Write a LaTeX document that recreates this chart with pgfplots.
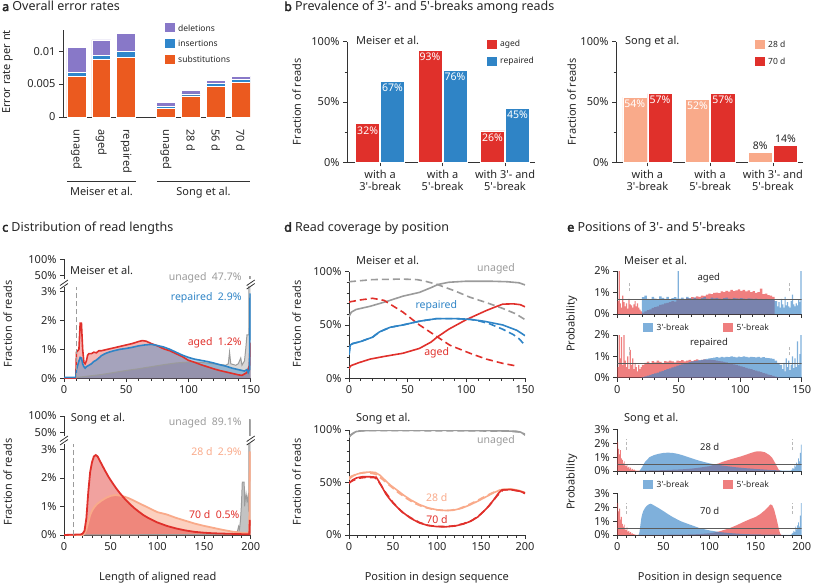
\documentclass[border=0pt]{standalone}
\usepackage{pgfplots}
\pgfplotsset{compat=1.18}
\usepackage{pgfplotstable}
\usepackage{fontspec}
\setmainfont{Noto Sans}[AutoFakeBold=3]
\newcommand{\fs}[1]{\fontsize{#1}{#1}\selectfont}
\newcommand{\q}{\textquotesingle}
\definecolor{axc}{HTML}{333333}
\definecolor{txc}{HTML}{262626}
\definecolor{cdel}{HTML}{8878C8}
\definecolor{cins}{HTML}{2F86CB}
\definecolor{csub}{HTML}{EB5A1F}
\definecolor{cred}{HTML}{E0302B}
\definecolor{cblue}{HTML}{2F84C6}
\definecolor{csal}{HTML}{F9AA8A}
\definecolor{cgrey}{HTML}{9B9B9B}
\definecolor{eblue}{HTML}{3B86C8}
\definecolor{ered}{HTML}{E63B3B}
\pgfplotsset{
  base/.style={
    scale only axis, anchor=south west,
    axis x line*=bottom, axis y line*=left,
    axis line style={draw=axc, line width=0.9pt},
    tick style={draw=axc, line width=0.7pt},
    tick align=outside, major tick length=4pt, minor tick length=2.5pt,
    tick label style={font=\fs{11}, text=txc},
    /pgf/number format/assume math mode=true,
  },
  pct/.style={yticklabel={\pgfmathprintnumber{\tick}\%}},
  efill/.style={const plot mark left, fill=#1, fill opacity=0.65, draw=none},
  sfill/.style={sharp plot, fill=#1, fill opacity=0.65, draw=none},
}
% panel c tables
\pgfplotstableread[row sep=\\]{x y\\0 0\\9.5 0\\10 0.03\\20 0.08\\30 0.13\\40 0.2\\50 0.27\\60 0.33\\70 0.4\\80 0.47\\90 0.53\\100 0.56\\110 0.55\\120 0.5\\125 0.48\\130 0.45\\132 0.5\\133 0.9\\134 0.5\\138 0.45\\140 0.5\\142 0.7\\143 0.45\\145 0.6\\146 1.0\\147 1.5\\148.5 1.5\\149 47.7\\150 47.7\\}\cGM
\pgfplotstableread[row sep=\\]{x y\\0 0\\9.5 0\\10 0.9\\11 0.95\\12 1.0\\13 1.9\\14 1.9\\15 1.0\\16 0.55\\17 0.5\\18 0.6\\19 0.8\\20 0.85\\22 0.85\\24 0.9\\26 0.88\\28 0.95\\30 0.95\\35 1.0\\40 1.05\\45 1.1\\50 1.15\\55 1.2\\60 1.27\\63 1.3\\66 1.28\\70 1.2\\75 1.12\\80 1.02\\85 0.95\\90 0.85\\95 0.75\\100 0.62\\105 0.55\\110 0.47\\115 0.4\\120 0.33\\125 0.27\\130 0.22\\135 0.17\\140 0.12\\143 0.1\\145 0.15\\147 0.2\\149 0.45\\149.5 1.2\\150 1.2\\}\cRM
\pgfplotstableread[row sep=\\]{x y\\0 0.03\\9.5 0.03\\10 0.3\\11 0.45\\12 0.6\\13 0.72\\14 0.7\\15 0.5\\16 0.4\\17 0.35\\18 0.4\\20 0.45\\22 0.5\\24 0.58\\26 0.63\\28 0.7\\30 0.78\\33 0.85\\36 0.9\\40 0.95\\45 1.0\\50 1.03\\55 1.07\\60 1.12\\65 1.15\\70 1.17\\73 1.15\\76 1.12\\80 1.08\\85 1.0\\90 0.9\\95 0.8\\100 0.72\\105 0.66\\110 0.62\\115 0.58\\120 0.53\\125 0.47\\130 0.42\\135 0.35\\140 0.3\\145 0.25\\147 0.3\\148 0.2\\149 0.3\\149.5 2.9\\150 2.9\\}\cBM
\pgfplotstableread[row sep=\\]{x y\\0 0\\180 0.02\\184 0.05\\186 0.15\\187 0.3\\188 0.2\\189 0.5\\190 1.0\\191 1.85\\193 1.85\\193.5 1.0\\194 1.2\\195 1.45\\196 1.2\\197 1.35\\198 0.8\\198.5 89.1\\200 89.1\\}\cGS
\pgfplotstableread[row sep=\\]{x y\\0 0\\20 0\\22 0.05\\24 0.2\\26 0.45\\28 0.7\\30 0.85\\33 1.0\\36 1.1\\40 1.2\\45 1.3\\50 1.37\\55 1.4\\60 1.38\\65 1.34\\70 1.28\\75 1.2\\80 1.12\\85 1.04\\90 0.96\\95 0.88\\100 0.8\\110 0.72\\120 0.6\\130 0.5\\140 0.4\\150 0.32\\160 0.25\\170 0.18\\180 0.12\\190 0.08\\198.5 0.06\\199 2.9\\200 2.9\\}\cSS
\pgfplotstableread[row sep=\\]{x y\\0 0\\18 0.02\\20 0.05\\22 0.15\\24 0.6\\26 1.5\\28 2.2\\30 2.55\\32 2.75\\34 2.8\\36 2.75\\38 2.62\\40 2.5\\44 2.25\\48 2.02\\52 1.82\\56 1.63\\60 1.46\\65 1.27\\70 1.1\\75 0.95\\80 0.82\\85 0.7\\90 0.6\\100 0.44\\110 0.32\\120 0.23\\130 0.16\\140 0.11\\150 0.08\\160 0.06\\170 0.05\\180 0.04\\190 0.03\\198.5 0.03\\199 0.5\\200 0.5\\}\cRS
\begin{document}
\begin{tikzpicture}
\useasboundingbox (0pt,0pt) rectangle (813pt,-586pt);
\tikzset{lab/.style={inner sep=0pt, text=txc}}
% titles
\node[lab, anchor=base west, font=\fs{12.5}] at (2pt,-11pt) {\textbf{a} Overall error rates};
\node[lab, anchor=base west, font=\fs{12.5}] at (284pt,-11pt) {\textbf{b} Prevalence of 3\q- and 5\q-breaks among reads};
\node[lab, anchor=base west, font=\fs{12.5}] at (2pt,-231.7pt) {\textbf{c} Distribution of read lengths};
\node[lab, anchor=base west, font=\fs{12.5}] at (284pt,-231.7pt) {\textbf{d} Read coverage by position};
\node[lab, anchor=base west, font=\fs{12.5}] at (567pt,-231.7pt) {\textbf{e} Positions of 3\q- and 5\q-breaks};

% ================= panel a
\begin{axis}[base, at={(63pt,-117pt)}, width=187pt, height=87pt,
  xmin=-0.54, xmax=6.98, ymin=0, ymax=0.0132,
  ybar stacked, bar width=0.76, scaled y ticks=false,
  ytick={0,0.005,0.01}, yticklabels={0,0.005,0.01},
  xtick={0,1,2,3.6,4.6,5.6,6.6},
  xticklabels={unaged,aged,repaired,unaged,28 d,56 d,70 d},
  xtick style={draw=none},
  xticklabel style={yshift=-5pt, rotate=-90, anchor=west},
]
\addplot[fill=csub, draw=white, line width=0.6pt] coordinates {(0,0.0061)(1,0.0087)(2,0.0090)(3.6,0.0013)(4.6,0.0032)(5.6,0.0046)(6.6,0.0052)};
\addplot[fill=cins, draw=white, line width=0.6pt] coordinates {(0,0.0007)(1,0.0006)(2,0.0010)(3.6,0.0003)(4.6,0.0003)(5.6,0.0005)(6.6,0.0005)};
\addplot[fill=cdel, draw=white, line width=0.6pt] coordinates {(0,0.0037)(1,0.0024)(2,0.0027)(3.6,0.0006)(4.6,0.00056)(5.6,0.0004)(6.6,0.0005)};
\end{axis}
\node[lab, rotate=90, font=\fs{11}] at (7.5pt,-72pt) {Error rate per nt};
\fill[cdel] (165pt,-23.5pt) rectangle (175pt,-32.5pt);
\fill[cins] (165pt,-39pt) rectangle (175pt,-48pt);
\fill[csub] (165pt,-55pt) rectangle (175pt,-64pt);
\node[lab, anchor=west, font=\fs{8.5}] at (178pt,-28pt) {deletions};
\node[lab, anchor=west, font=\fs{8.5}] at (178pt,-43.5pt) {insertions};
\node[lab, anchor=west, font=\fs{8.5}] at (178pt,-59.5pt) {substitutions};
\draw[axc, line width=0.8pt] (67pt,-181pt) -- (136pt,-181pt);
\draw[axc, line width=0.8pt] (157pt,-181pt) -- (250pt,-181pt);
\node[lab, anchor=base, font=\fs{11}] at (101.5pt,-195.5pt) {Meiser et al.};
\node[lab, anchor=base, font=\fs{11}] at (203.5pt,-195.5pt) {Song et al.};

% ================= panel b (Meiser)
\begin{axis}[base, pct, at={(347pt,-162.3pt)}, width=188pt, height=120.6pt,
  xmin=-0.53, xmax=2.48, ymin=0, ymax=100, ybar, bar width=0.385,
  ytick={0,50,100}, minor ytick={25,75},
  xtick={0,1,2}, xticklabels={{with a\\3\q-break},{with a\\5\q-break},{with 3\q- and\\5\q-break}},
  xticklabel style={align=center, font=\fontsize{11}{12.5}\selectfont},
]
\addplot[fill=cred, draw=white, line width=0.5pt, bar shift=-0.2,
  nodes near coords={\pgfmathprintnumber{\pgfplotspointmeta}\%},
  nodes near coords style={anchor=north, text=white, font=\fs{10.5}, inner sep=2.5pt}]
  coordinates {(0,32)(1,93)(2,26)};
\addplot[fill=cblue, draw=white, line width=0.5pt, bar shift=0.2,
  nodes near coords={\pgfmathprintnumber{\pgfplotspointmeta}\%},
  nodes near coords style={anchor=north, text=white, font=\fs{10.5}, inner sep=2.5pt}]
  coordinates {(0,67)(1,76)(2,45)};
\end{axis}
\node[lab, rotate=90, font=\fs{11}] at (296.7pt,-101.7pt) {Fraction of reads};
\node[lab, anchor=base west, font=\fs{11}] at (356pt,-45pt) {Meiser et al.};
\fill[cred] (487pt,-40pt) rectangle (497pt,-49pt);
\fill[cblue] (487pt,-56.7pt) rectangle (497pt,-65.7pt);
\node[lab, anchor=west, font=\fs{8.5}] at (500pt,-44.5pt) {aged};
\node[lab, anchor=west, font=\fs{8.5}] at (500pt,-61.2pt) {repaired};

% ================= panel b (Song)
\begin{axis}[base, pct, at={(616pt,-162.3pt)}, width=187pt, height=120.6pt,
  xmin=-0.5, xmax=2.48, ymin=0, ymax=100, ybar, bar width=0.385,
  ytick={0,50,100}, minor ytick={25,75},
  xtick={0,1,2}, xticklabels={{with a\\3\q-break},{with a\\5\q-break},{with 3\q- and\\5\q-break}},
  xticklabel style={align=center, font=\fontsize{11}{12.5}\selectfont},
]
\addplot[fill=csal, draw=white, line width=0.5pt, bar shift=-0.2,
  nodes near coords={\pgfmathprintnumber{\pgfplotspointmeta}\%},
  nodes near coords style={anchor=north, text=white, font=\fs{10.5}, inner sep=2.5pt}]
  coordinates {(0,54)(1,52)};
\addplot[fill=csal, draw=white, line width=0.5pt, bar shift=-0.2,
  nodes near coords={\pgfmathprintnumber{\pgfplotspointmeta}\%},
  nodes near coords style={anchor=south, text=txc, font=\fs{10.5}, inner sep=2.5pt}]
  coordinates {(2,8)};
\addplot[fill=cred, draw=white, line width=0.5pt, bar shift=0.2,
  nodes near coords={\pgfmathprintnumber{\pgfplotspointmeta}\%},
  nodes near coords style={anchor=north, text=white, font=\fs{10.5}, inner sep=2.5pt}]
  coordinates {(0,57)(1,57)};
\addplot[fill=cred, draw=white, line width=0.5pt, bar shift=0.2,
  nodes near coords={\pgfmathprintnumber{\pgfplotspointmeta}\%},
  nodes near coords style={anchor=south, text=txc, font=\fs{10.5}, inner sep=2.5pt}]
  coordinates {(2,14)};
\end{axis}
\node[lab, rotate=90, font=\fs{11}] at (571.7pt,-101.7pt) {Fraction of reads};
\node[lab, anchor=base west, font=\fs{11}] at (625pt,-45pt) {Song et al.};
\fill[csal] (755pt,-40pt) rectangle (765pt,-49pt);
\fill[cred] (755pt,-56.7pt) rectangle (765pt,-65.7pt);
\node[lab, anchor=west, font=\fs{8.5}] at (768pt,-44.5pt) {28 d};
\node[lab, anchor=west, font=\fs{8.5}] at (768pt,-61.2pt) {70 d};

% ================= panel c (Meiser)
\begin{axis}[base, pct, at={(64pt,-378.3pt)}, width=186.7pt, height=91.35pt,
  xmin=0, xmax=150, ymin=0, ymax=3.15,
  ytick={0,1,2,3}, xtick={0,50,100,150}, minor xtick={10,20,...,140},
]
\addplot[fill=cgrey, fill opacity=0.4, draw=none] table {\cGM} \closedcycle;
\addplot[fill=cred, fill opacity=0.35, draw=none] table {\cRM} \closedcycle;
\addplot[fill=cblue, fill opacity=0.4, draw=none] table {\cBM} \closedcycle;
\addplot[cgrey, line width=1pt] table {\cGM};
\addplot[cred, line width=1.6pt] table {\cRM};
\addplot[cblue, line width=1.6pt] table {\cBM};
\addplot[cgrey, line width=0.8pt, dash pattern=on 5pt off 3pt] coordinates {(10,0)(10,3.15)};
\end{axis}
\begin{axis}[base, pct, at={(64pt,-279pt)}, width=186.7pt, height=19.7pt,
  xmin=0, xmax=150, ymin=40, ymax=100, axis x line=none,
  ytick={50,100}, xtick=\empty,
]
\addplot[fill=cgrey, draw=cgrey, line width=0.5pt] coordinates {(148.6,40)(148.6,47.7)(150,47.7)(150,40)};
\end{axis}
\draw[axc, line width=0.8pt] (60pt,-285.5pt)--(68pt,-280pt) (60pt,-289pt)--(68pt,-283.5pt);
\draw[axc, line width=0.8pt] (246.7pt,-285.5pt)--(254.7pt,-280pt) (246.7pt,-289pt)--(254.7pt,-283.5pt);
\node[lab, rotate=90, font=\fs{11}] at (7.7pt,-324pt) {Fraction of reads};
\node[lab, anchor=base west, font=\fs{11}] at (70pt,-274.5pt) {Meiser et al.};
\node[lab, anchor=base east, font=\fs{10.5}, text=cgrey] at (241.7pt,-280.5pt) {unaged\ \ 47.7\%};
\node[lab, anchor=base east, font=\fs{10.5}, text=cblue] at (241.7pt,-300.5pt) {repaired\ \ 2.9\%};
\node[lab, anchor=base east, font=\fs{10.5}, text=cred] at (241.7pt,-345.5pt) {aged\ \ 1.2\%};

% ================= panel c (Song)
\begin{axis}[base, pct, at={(64pt,-535pt)}, width=186.7pt, height=91.4pt,
  xmin=0, xmax=200, ymin=0, ymax=3.2,
  ytick={0,1,2,3}, xtick={0,50,100,150,200}, minor xtick={10,20,...,190},
]
\addplot[fill=cgrey, fill opacity=0.6, draw=none] table {\cGS} \closedcycle;
\addplot[fill=csal, fill opacity=0.55, draw=none] table {\cSS} \closedcycle;
\addplot[fill=cred, fill opacity=0.45, draw=none] table {\cRS} \closedcycle;
\addplot[cgrey, line width=1pt] table {\cGS};
\addplot[csal, line width=1.8pt] table {\cSS};
\addplot[cred, line width=1.8pt] table {\cRS};
\addplot[cgrey, line width=0.8pt, dash pattern=on 5pt off 3pt] coordinates {(10,0)(10,3.2)};
\end{axis}
\begin{axis}[base, pct, at={(64pt,-436pt)}, width=186.7pt, height=20pt,
  xmin=0, xmax=200, ymin=40, ymax=100, axis x line=none,
  ytick={50,100}, xtick=\empty,
]
\addplot[fill=cgrey, draw=cgrey, line width=0.5pt] coordinates {(198.5,40)(198.5,89.1)(200,89.1)(200,40)};
\end{axis}
\draw[axc, line width=0.8pt] (60pt,-441.5pt)--(68pt,-436pt) (60pt,-445pt)--(68pt,-439.5pt);
\draw[axc, line width=0.8pt] (246.7pt,-441.5pt)--(254.7pt,-436pt) (246.7pt,-445pt)--(254.7pt,-439.5pt);
\node[lab, rotate=90, font=\fs{11}] at (7.7pt,-482pt) {Fraction of reads};
\node[lab, anchor=base west, font=\fs{11}] at (70.7pt,-421.5pt) {Song et al.};
\node[lab, anchor=base east, font=\fs{10.5}, text=cgrey] at (241.7pt,-425pt) {unaged\ \ 89.1\%};
\node[lab, anchor=base east, font=\fs{10.5}, text=csal] at (241.7pt,-455.5pt) {28 d\ \ 2.9\%};
\node[lab, anchor=base east, font=\fs{10.5}, text=cred] at (239.5pt,-518.5pt) {70 d\ \ 0.5\%};
\node[lab, anchor=base, font=\fs{11}] at (157.7pt,-580.5pt) {Length of aligned read};

% ================= panel d (Meiser)
\begin{axis}[base, pct, at={(349pt,-378.3pt)}, width=176pt, height=106.7pt,
  xmin=0, xmax=150, ymin=0, ymax=100,
  ytick={0,50,100}, minor ytick={10,20,30,40,60,70,80,90},
  xtick={0,50,100,150}, minor xtick={10,20,...,140},
]
\addplot[cgrey, line width=1.6pt, dash pattern=on 7pt off 4pt] coordinates {(0,90.5)(20,92.5)(45,93)(58,92.5)(65,91)(75,88)(90,82)(103,76)(117,71)(131,65.5)(142,60.5)(150,55)};
\addplot[cgrey, line width=1.6pt] coordinates {(0,58)(2,62)(6,64.5)(18,67.5)(32,72)(46,77)(60,80.5)(70,85)(76,88)(85,90)(100,91)(120,91)(135,90.5)(145,89.5)(150,87.5)};
\addplot[cred, line width=1.6pt, dash pattern=on 7pt off 4pt] coordinates {(0,71.5)(10,73.5)(20,75)(30,73)(38,67.5)(46,62)(60,50)(75,39)(86,31)(103,23.5)(117,18)(131,14)(143,11.5)};
\addplot[cblue, line width=1.6pt, dash pattern=on 7pt off 4pt] coordinates {(0,22)(1,31)(3,32.5)(10,34.5)(20,38.5)(26,43.5)(35,47.8)(46,50)(60,53.5)(75,56)(90,56)(103,55.3)(110,54)(120,51)(131,46)(140,41)(145,37)(150,31)};
\addplot[cred, line width=1.6pt] coordinates {(0,9)(1,11)(2,12)(8,14.5)(18,18)(30,20.5)(46,23.5)(60,28)(70,34)(75,38.5)(85,46)(100,55)(110,60)(117,63.5)(125,67)(131,69.5)(140,69.8)(146,69)(150,67)};
\addplot[cblue, line width=1.6pt] coordinates {(0,22)(1,31)(3,32.5)(10,34.5)(20,38.5)(26,43.5)(35,47.8)(46,50)(60,53.5)(75,56)(90,56)(103,55.3)(115,53.5)(131,50)(143,45)(150,40)};
\end{axis}
\node[lab, rotate=90, font=\fs{11}] at (296.7pt,-324pt) {Fraction of reads};
\node[lab, anchor=base west, font=\fs{11}] at (356pt,-264.5pt) {Meiser et al.};
\node[lab, anchor=base, font=\fs{10.5}, text=cgrey] at (496pt,-271.5pt) {unaged};
\node[lab, anchor=base, font=\fs{10.5}, text=cblue] at (436.3pt,-308.5pt) {repaired};
\node[lab, anchor=base, font=\fs{10.5}, text=cred] at (436.7pt,-355pt) {aged};

% ================= panel d (Song)
\begin{axis}[base, pct, at={(349pt,-535pt)}, width=176pt, height=105pt,
  xmin=0, xmax=200, ymin=0, ymax=100,
  ytick={0,50,100}, minor ytick={10,20,30,40,60,70,80,90},
  xtick={0,50,100,150,200}, minor xtick={10,20,...,190},
]
\addplot[cgrey, line width=1.6pt, dash pattern=on 7pt off 4pt] coordinates {(0,94)(3,96)(8,98.8)(20,99.5)(100,99.3)(180,99)(195,98)(200,96)};
\addplot[cgrey, line width=1.6pt] coordinates {(0,93)(2,95)(5,97)(8,98.5)(15,99.3)(30,99.8)(100,99.8)(170,99.3)(190,98.8)(195,98)(198,96.5)(200,95)};
\addplot[csal, line width=1.6pt, dash pattern=on 7pt off 4pt] coordinates {(0,55)(10,58.5)(20,59.5)(30,58)(38,53)(45,48)(55,41)(65,35)(75,30)(85,26.5)(95,24.5)(105,23.5)(115,23.5)(125,25)(135,28.5)(145,32.5)(155,37)(165,41)(175,43.5)(185,43.5)(195,41.5)(200,40)};
\addplot[csal, line width=1.6pt] coordinates {(0,53)(4,56)(9,58)(16,59.5)(24,60)(30,59.5)(35,57)(40,53)(47,47.5)(55,42.5)(62,38)(70,33.5)(80,29)(90,25.8)(100,24)(110,23.3)(118,23.5)(128,25.5)(137,28.5)(147,32.5)(156,36.5)(165,40.5)(172,43)(183,44)(193,42.5)(200,40.5)};
\addplot[cred, line width=1.6pt, dash pattern=on 7pt off 4pt] coordinates {(0,50)(10,54)(20,55)(30,54.5)(36,48)(42,40)(50,31)(60,22)(70,16.5)(80,12)(90,9.2)(100,8.2)(110,8)(120,8.8)(130,10.8)(140,14)(150,20)(160,28.5)(168,37)(175,43)(185,43)(195,41.5)(200,39.5)};
\addplot[cred, line width=1.6pt] coordinates {(0,49)(4,52.5)(9,54.5)(15,55.5)(24,55.5)(31,55)(34,51)(38,45)(42,39)(46,34.5)(50,30.5)(56,25.5)(62,21)(70,16)(80,11.5)(90,9)(100,8)(110,7.8)(120,8.5)(130,10.5)(138,13)(146,17)(156,25)(164,33)(170,40)(174,43)(183,43.3)(193,42)(200,40)};
\end{axis}
\node[lab, rotate=90, font=\fs{11}] at (296.7pt,-481.7pt) {Fraction of reads};
\node[lab, anchor=base west, font=\fs{11}] at (356pt,-421.5pt) {Song et al.};
\node[lab, anchor=base, font=\fs{10.5}, text=cgrey] at (496pt,-443pt) {unaged};
\node[lab, anchor=base, font=\fs{10.5}, text=csal] at (436.7pt,-501pt) {28 d};
\node[lab, anchor=base, font=\fs{10.5}, text=cred] at (437pt,-523pt) {70 d};
\node[lab, anchor=base, font=\fs{11}] at (436.8pt,-580.5pt) {Position in design sequence};

% ================= panel e (Meiser aged)
\begin{axis}[base, pct, at={(617.3pt,-314pt)}, width=184.4pt, height=43pt,
  xmin=0, xmax=150, ymin=0, ymax=2, ytick={0,1,2},
  xtick={0,50,100,150}, minor xtick={10,20,...,140}, xticklabels={,,,,},
]
\addplot[efill=ered] coordinates {(0,0.6)(1,2.0)(2,0.5)(3,0.3)(4,0.85)(5,0.55)(6,0.35)(7,0.5)(8,0.25)(9,0.7)(10,0.45)(11,0.4)(12,0.3)(13,0.45)(14,0.6)(15,0.35)(16,0.5)(17,0.3)(18,0.2)(19,0.12)(20,0.06)(22,0.12)(24,0.18)(26,0.22)(28,0.28)(30,0.32)(32,0.36)(34,0.42)(36,0.45)(38,0.5)(40,0.52)(42,0.55)(44,0.6)(46,0.58)(48,0.64)(50,0.66)(52,0.7)(54,0.68)(56,0.74)(58,0.72)(60,0.78)(62,0.76)(64,0.82)(66,0.8)(68,0.86)(70,0.84)(72,0.9)(74,0.95)(76,0.92)(78,0.98)(80,1.0)(82,0.97)(84,1.05)(86,1.02)(88,1.08)(90,1.04)(92,1.12)(94,1.06)(96,1.1)(98,1.15)(100,1.08)(102,1.12)(104,1.05)(106,1.1)(108,1.02)(110,1.06)(112,0.98)(114,1.02)(116,1.18)(118,0.92)(120,0.95)(122,0.88)(124,0.85)(126,0.8)(128,0)(150,0)} \closedcycle;
\addplot[efill=eblue] coordinates {(0,0)(20,0.78)(22,0.85)(24,0.7)(26,0.65)(28,0.8)(30,0.72)(32,0.68)(34,0.82)(36,0.75)(38,0.7)(40,0.8)(42,0.66)(44,0.74)(46,0.78)(48,0.72)(49,2.0)(50,0.72)(52,0.76)(54,0.7)(56,0.8)(58,0.74)(60,0.7)(62,0.76)(64,0.72)(66,0.68)(68,0.74)(70,0.78)(72,0.72)(74,0.7)(76,0.76)(78,0.73)(80,0.75)(82,0.72)(84,0.7)(86,0.74)(88,0.76)(90,0.72)(92,0.7)(94,0.75)(96,0.73)(98,0.71)(100,0.74)(102,0.72)(104,0.7)(106,0.73)(108,0.71)(110,0.7)(112,0.72)(114,0.69)(116,0.7)(118,0.68)(120,0.7)(122,0.66)(124,0.68)(126,0.64)(128,0.6)(130,0.35)(131,0.55)(132,0.3)(133,0.7)(134,0.45)(135,0.3)(136,0.8)(137,0.4)(138,0.55)(139,0.35)(140,0.3)(141,0.6)(142,0.9)(143,0.45)(144,0.35)(145,0.5)(146,0.4)(147,0.65)(148,0.55)(149,2.0)(150,2.0)} \closedcycle;
\addplot[axc!80, line width=0.6pt] coordinates {(0,0.667)(150,0.667)};
\addplot[cgrey!70, line width=0.8pt, dash pattern=on 3pt off 2pt] coordinates {(10,1.05)(10,1.5)};
\addplot[cgrey!70, line width=0.8pt, dash pattern=on 3pt off 2pt] coordinates {(140,1.05)(140,1.5)};
\end{axis}
% panel e (Meiser repaired)
\begin{axis}[base, pct, at={(617.3pt,-377.7pt)}, width=184.4pt, height=42.7pt,
  xmin=0, xmax=150, ymin=0, ymax=2, ytick={0,1,2},
  xtick={0,50,100,150}, minor xtick={10,20,...,140},
]
\addplot[efill=ered] coordinates {(0,0.5)(1,2.0)(2,0.9)(3,1.9)(4,0.6)(5,2.0)(6,0.8)(7,0.5)(8,1.0)(9,0.4)(10,1.3)(11,0.6)(12,0.9)(13,0.4)(14,0.7)(15,0.5)(16,0.3)(17,0.6)(18,0.4)(19,0.5)(20,0.6)(22,0.7)(24,0.75)(26,0.68)(28,0.78)(30,0.72)(32,0.8)(34,0.74)(36,0.7)(38,0.78)(40,0.75)(42,0.8)(44,0.76)(46,0.72)(48,0.8)(50,0.78)(52,0.82)(54,0.76)(56,0.8)(58,0.84)(60,0.78)(62,0.82)(64,0.86)(66,0.8)(68,0.84)(70,0.86)(72,0.82)(74,0.85)(76,0.84)(78,0.82)(80,0.8)(82,0.78)(84,0.76)(86,0.74)(88,0.72)(90,0.68)(92,0.65)(94,0.62)(96,0.6)(98,0.56)(100,0.53)(102,0.5)(104,0.46)(106,0.43)(108,0.4)(110,0.36)(112,0.33)(114,0.3)(116,0.26)(118,0.22)(120,0.19)(122,0.15)(124,0.12)(126,0.08)(128,0.05)(130,0.02)(132,0)(150,0)} \closedcycle;
\addplot[efill=eblue] coordinates {(0,0)(20,0.03)(22,0.06)(24,0.1)(26,0.13)(28,0.17)(30,0.2)(32,0.24)(34,0.28)(36,0.32)(38,0.36)(40,0.4)(42,0.44)(44,0.48)(46,0.52)(48,0.56)(50,0.6)(52,0.63)(54,0.66)(56,0.7)(58,0.73)(60,0.76)(62,0.78)(64,0.8)(66,0.82)(68,0.84)(70,0.86)(72,0.88)(74,0.9)(76,0.92)(78,0.94)(80,0.96)(82,0.94)(84,0.97)(86,0.95)(88,0.98)(90,0.96)(92,1.0)(94,0.97)(96,0.95)(98,0.99)(100,0.96)(102,1.0)(104,0.97)(106,0.95)(108,0.98)(110,0.96)(112,0.95)(114,0.97)(116,0.94)(118,0.96)(120,0.93)(122,0.92)(124,0.9)(126,0.88)(128,0.8)(130,0.7)(132,0.6)(134,0.4)(135,0.7)(136,0.3)(137,0.9)(138,0.5)(139,0.8)(140,0.35)(141,0.6)(142,1.0)(143,0.45)(144,0.9)(145,0.5)(146,1.7)(147,0.6)(148,1.1)(149,2.0)(150,2.0)} \closedcycle;
\addplot[axc!80, line width=0.6pt] coordinates {(0,0.667)(150,0.667)};
\addplot[cgrey!70, line width=0.8pt, dash pattern=on 3pt off 2pt] coordinates {(10,1.05)(10,1.5)};
\addplot[cgrey!70, line width=0.8pt, dash pattern=on 3pt off 2pt] coordinates {(140,1.05)(140,1.5)};
\end{axis}
\node[lab, rotate=90, font=\fs{11}] at (571.7pt,-324pt) {Probability};
\node[lab, anchor=base west, font=\fs{11}] at (624pt,-264.5pt) {Meiser et al.};
\node[lab, anchor=base, font=\fs{9.5}] at (708.8pt,-280.8pt) {aged};
\node[lab, anchor=base, font=\fs{9.5}] at (709pt,-345pt) {repaired};
\fill[eblue, opacity=0.65] (643.3pt,-322.7pt) rectangle (653.3pt,-331.7pt);
\fill[ered, opacity=0.65] (723.3pt,-322.7pt) rectangle (733.3pt,-331.7pt);
\node[lab, anchor=west, font=\fs{8.5}] at (656.5pt,-327.2pt) {3\q-break};
\node[lab, anchor=west, font=\fs{8.5}] at (736.5pt,-327.2pt) {5\q-break};

% panel e (Song 28 d)
\begin{axis}[base, pct, at={(617.3pt,-471pt)}, width=184.4pt, height=41.7pt,
  xmin=0, xmax=200, ymin=0, ymax=3, ytick={0,1,2,3},
  xtick={0,50,100,150,200}, minor xtick={10,20,...,190}, xticklabels={,,,,,},
]
\addplot[efill=ered] coordinates {(0,2.1)(1,1.6)(2,1.2)(3,1.5)(4,0.9)(5,0.8)(6,0.55)(7,0.7)(8,0.4)(9,0.35)(10,0.45)(11,0.25)(12,0.3)(13,0.15)(14,0.25)(15,0.1)(16,0.15)(17,0.08)(18,0.1)(19,0.05)(20,0.02)} \closedcycle;
\addplot[sfill=ered] coordinates {(20,0.02)(30,0.03)(50,0.06)(70,0.12)(80,0.17)(90,0.25)(100,0.35)(110,0.55)(115,0.68)(120,0.78)(125,0.88)(133,1.03)(140,1.18)(145,1.3)(150,1.4)(155,1.42)(160,1.35)(165,1.15)(168,0.95)(171,0.6)(173,0.35)(175,0.1)(177,0)} \closedcycle;
\addplot[sfill=eblue] coordinates {(24,0)(25,0.1)(27,0.3)(30,0.65)(35,1.0)(40,1.15)(45,1.24)(50,1.3)(55,1.32)(60,1.3)(65,1.24)(70,1.15)(75,1.04)(80,0.93)(85,0.82)(90,0.72)(100,0.55)(110,0.43)(120,0.34)(130,0.26)(140,0.2)(150,0.15)(160,0.1)(170,0.06)(180,0.03)(188,0.02)} \closedcycle;
\addplot[efill=eblue] coordinates {(188,0.05)(189,0.1)(190,0.2)(191,0.15)(192,0.4)(193,0.3)(194,0.6)(195,0.5)(196,0.9)(197,0.7)(198,1.3)(199,1.9)(200,1.9)} \closedcycle;
\addplot[axc!80, line width=0.6pt] coordinates {(0,0.5)(200,0.5)};
\addplot[cgrey!70, line width=0.8pt, dash pattern=on 3pt off 2pt] coordinates {(10,1.5)(10,2.3)};
\addplot[cgrey!70, line width=0.8pt, dash pattern=on 3pt off 2pt] coordinates {(190,1.5)(190,2.3)};
\end{axis}
% panel e (Song 70 d)
\begin{axis}[base, pct, at={(617.3pt,-535pt)}, width=184.4pt, height=41.7pt,
  xmin=0, xmax=200, ymin=0, ymax=3, ytick={0,1,2,3},
  xtick={0,50,100,150,200}, minor xtick={10,20,...,190},
]
\addplot[efill=ered] coordinates {(0,2.3)(1,1.7)(2,1.9)(3,1.1)(4,1.3)(5,0.8)(6,0.6)(7,0.75)(8,0.4)(9,0.35)(10,0.55)(11,0.25)(12,0.3)(13,0.15)(14,0.2)(15,0.1)(16,0.12)(17,0.06)(18,0.05)(19,0.03)(20,0.01)} \closedcycle;
\addplot[sfill=ered] coordinates {(20,0.01)(60,0.02)(80,0.04)(90,0.07)(100,0.12)(110,0.25)(115,0.35)(120,0.45)(125,0.58)(130,0.72)(135,0.88)(140,1.03)(145,1.17)(150,1.3)(155,1.5)(160,1.78)(164,2.05)(166,2.2)(168,2.15)(170,1.85)(172,1.35)(173,1.08)(175,0.5)(176.5,0.12)(178,0)} \closedcycle;
\addplot[sfill=eblue] coordinates {(23,0)(24,0.2)(25,0.7)(26,1.2)(27,1.5)(28,1.7)(30,1.95)(32,2.1)(34,2.2)(36,2.25)(38,2.2)(40,2.12)(45,1.93)(50,1.72)(55,1.5)(60,1.3)(65,1.12)(70,0.96)(75,0.84)(80,0.72)(85,0.6)(90,0.48)(100,0.33)(110,0.22)(120,0.15)(130,0.1)(140,0.06)(160,0.03)(188,0.01)} \closedcycle;
\addplot[efill=eblue] coordinates {(188,0.03)(189,0.1)(190,0.15)(191,0.3)(192,0.2)(193,0.6)(194,0.4)(195,0.7)(196,0.9)(197,0.6)(198,1.4)(199,2.3)(200,2.3)} \closedcycle;
\addplot[axc!80, line width=0.6pt] coordinates {(0,0.5)(200,0.5)};
\addplot[cgrey!70, line width=0.8pt, dash pattern=on 3pt off 2pt] coordinates {(10,1.5)(10,2.3)};
\addplot[cgrey!70, line width=0.8pt, dash pattern=on 3pt off 2pt] coordinates {(190,1.5)(190,2.3)};
\end{axis}
\node[lab, rotate=90, font=\fs{11}] at (571.7pt,-482pt) {Probability};
\node[lab, anchor=base west, font=\fs{11}] at (624pt,-421.5pt) {Song et al.};
\node[lab, anchor=base, font=\fs{9.5}] at (709.7pt,-450pt) {28 d};
\node[lab, anchor=base, font=\fs{9.5}] at (709.7pt,-514pt) {70 d};
\fill[eblue, opacity=0.65] (643.3pt,-480pt) rectangle (653.3pt,-489pt);
\fill[ered, opacity=0.65] (723.3pt,-480pt) rectangle (733.3pt,-489pt);
\node[lab, anchor=west, font=\fs{8.5}] at (656.5pt,-484.5pt) {3\q-break};
\node[lab, anchor=west, font=\fs{8.5}] at (736.5pt,-484.5pt) {5\q-break};
\node[lab, anchor=base, font=\fs{11}] at (710pt,-580.5pt) {Position in design sequence};
\end{tikzpicture}
\end{document}
